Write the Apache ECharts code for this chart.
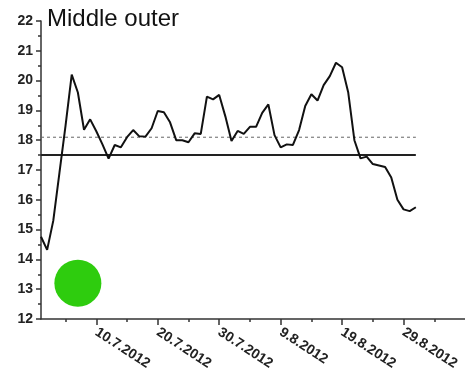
<!DOCTYPE html>
<html>
<head>
<meta charset="utf-8">
<script src="https://cdn.jsdelivr.net/npm/echarts@6/dist/echarts.min.js"></script>
<style>
  html, body { margin: 0; padding: 0; background: #fff; }
  #chart { width: 465px; height: 381px; }
</style>
</head>
<body>
<div id="chart"></div>
<script>
// day 0 = 1.7.2012, one reading per day
var startDate = [2012, 6, 1];
var values = [14.76, 14.32, 15.3, 16.9, 18.5, 20.2, 19.6, 18.35, 18.7, 18.3,
    17.86, 17.38, 17.84, 17.76, 18.1, 18.34, 18.13, 18.12, 18.4, 18.98,
    18.94, 18.6, 18.0, 18.0, 17.93, 18.23, 18.21, 19.46, 19.37, 19.52,
    18.8, 17.97, 18.31, 18.21, 18.45, 18.45, 18.92, 19.2, 18.17, 17.76,
    17.86, 17.84, 18.34, 19.15, 19.54, 19.33, 19.85, 20.15, 20.6, 20.45,
    19.6, 18.0, 17.39, 17.45, 17.2, 17.15, 17.1, 16.75, 16.0, 15.68,
    15.62, 15.75];
var dashedLevel = 18.1;
var solidLevel = 17.5;
var marker = [6, 13.2];
var labelDays = [9, 19, 29, 39, 49, 59];   // 10.7 ... 29.8
var minorDays = [4, 14, 24, 34, 44, 54, 64];

var lineData = values.map(function(v, i) { return [i, v]; });
var lastDay = values.length - 1;

function dayLabel(d) {
    var dt = new Date(startDate[0], startDate[1], startDate[2] + d);
    return dt.getDate() + '.' + (dt.getMonth() + 1) + '.' + dt.getFullYear();
}

var myChart = echarts.init(document.getElementById('chart'));

var axisFont = { fontFamily: 'Liberation Sans, Arial, sans-serif', fontWeight: 'bold', fontSize: 14, color: '#222' };

var option = {
    backgroundColor: '#fff',
    animation: false,
    title: {
        text: 'Middle outer',
        left: 42,
        top: 2,
        textStyle: { fontFamily: 'Liberation Sans, Arial, sans-serif', fontWeight: 'normal', fontSize: 24, color: '#111' }
    },
    grid: { left: 41, top: 21, width: 426, height: 298 },
    xAxis: [{
        type: 'value',
        min: 0,
        max: 69,
        axisLine: { lineStyle: { color: '#333', width: 1.5 } },
        axisTick: { customValues: labelDays, length: 6, lineStyle: { color: '#333', width: 1.5 } },
        axisLabel: Object.assign({
            customValues: labelDays,
            rotate: -33,
            margin: 12,
            formatter: function(v) { return dayLabel(v); }
        }, axisFont),
        splitLine: { show: false }
    }, {
        type: 'value',
        position: 'bottom',
        min: 0,
        max: 69,
        axisLine: { show: false },
        axisTick: { customValues: minorDays, length: 3, lineStyle: { color: '#333', width: 1.5 } },
        axisLabel: { show: false },
        splitLine: { show: false }
    }],
    yAxis: {
        type: 'value',
        min: 12,
        max: 22,
        interval: 1,
        axisLine: { show: true, lineStyle: { color: '#333', width: 1.5 } },
        axisTick: { show: true, length: 5, lineStyle: { color: '#333', width: 1.5 } },
        minorTick: { show: true, splitNumber: 2, length: 3, lineStyle: { color: '#333', width: 1.5 } },
        axisLabel: Object.assign({ margin: 8 }, axisFont),
        splitLine: { show: false }
    },
    series: [{
        type: 'line',
        data: [[0, dashedLevel], [lastDay, dashedLevel]],
        symbol: 'none',
        lineStyle: { color: '#666', width: 1, type: [3, 3] },
        z: 2
    }, {
        type: 'line',
        data: [[0, solidLevel], [lastDay, solidLevel]],
        symbol: 'none',
        lineStyle: { color: '#222', width: 2 },
        z: 2
    }, {
        type: 'line',
        data: lineData,
        symbol: 'none',
        lineStyle: { color: '#111', width: 2 },
        z: 3
    }, {
        type: 'scatter',
        data: [marker],
        symbolSize: 47,
        itemStyle: { color: '#2ecc0e', opacity: 1 },
        z: 4
    }]
};

myChart.setOption(option);
</script>
</body>
</html>
